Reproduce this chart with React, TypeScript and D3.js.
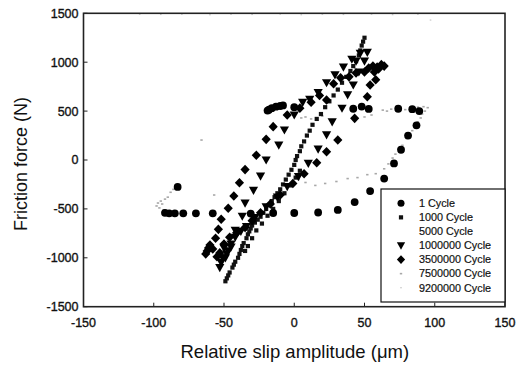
import React from "react";
import * as d3 from "d3";

const X_TICKS = [-150, -100, -50, 0, 50, 100, 150];
const Y_TICKS = [-1500, -1000, -500, 0, 500, 1000, 1500];

const SERIES_NAMES = [
  "1 Cycle",
  "1000 Cycle",
  "5000 Cycle",
  "1000000 Cycle",
  "3500000 Cycle",
  "7500000 Cycle",
  "9200000 Cycle",
];

const cycle1: [number, number][] = [
  [-92, -540], [-89, -545], [-85, -545], [-79, -545], [-70, -545], [-58, -545],
  [-31, -548], [-15, -542], [0, -542], [17, -537], [31, -510], [43, -430],
  [54, -318], [64, -190], [71, -35], [76, 105], [81, 250], [87, 355], [89, 500],
  [84, 520], [74, 524], [53, 522], [48, 546], [42, 524], [0, 540], [-8, 558],
  [-10, 552], [-13, 545], [-16, 530], [-18, 515], [-19, 505], [-83, -275],
];

const cycle1000: [number, number][] = [
  [-49, -1240], [-48, -1210], [-47, -1180], [-46, -1150], [-44, -1100], [-43, -1070],
  [-42, -1040], [-40, -1000], [-39, -960], [-38, -920], [-37, -880], [-36, -850],
  [-34, -800], [-33, -760], [-32, -730], [-31, -700], [-30, -670], [-28, -640],
  [-26, -610], [-24, -580], [-22, -540], [-20, -500], [-18, -460], [-16, -420],
  [-14, -380], [-12, -340], [-10, -300], [-8, -250], [-6, -200], [-4, -150],
  [-2, -100], [0, -50], [1, 0], [2, 40], [4, 90], [5, 140], [7, 190], [9, 250],
  [11, 300], [13, 360], [16, 420], [19, 470], [22, 540], [25, 600], [28, 660],
  [31, 720], [34, 790], [37, 850], [40, 910], [42, 960], [44, 1010], [46, 1070],
  [47, 1120], [48, 1170], [49, 1210], [50, 1250],
  [-35, -930], [-33, -880], [-30, -800], [-27, -720], [-23, -650], [-19, -570],
  [-15, -500], [-11, -420], [-7, -340], [-3, -260], [1, -180], [4, -110],
];

const cycle5000: [number, number][] = [
  [0, -120], [10, 60], [20, 250], [30, 420], [-10, -300], [-20, -480],
];

const cycle1000000: [number, number][] = [
  [-53, -1100], [-52, -1050], [-51, -1000], [-48, -960], [-50, -900], [-45, -890],
  [-42, -720], [-37, -575], [-35, -440], [-29, -310], [-24, -165], [-20, 0],
  [-11, 153], [-7, 307], [0, 460], [6, 590], [11, 620], [17, 690], [23, 790],
  [29, 870], [35, 950], [41, 1030], [47, 1090], [52, 1100], [44, 1010],
  [50, 1010], [46, 900], [42, 767], [38, 665], [34, 529], [27, 390], [23, 256],
  [17, 112], [10, -34], [3, -171], [-5, -273], [-12, -380], [-20, -480],
  [-28, -590], [-34, -680], [-38, -730], [-42, -790], [-45, -860], [-47, -930],
  [-49, -1000],
];

const cycle3500000: [number, number][] = [
  [-63, -960], [-62, -930], [-61, -900], [-60, -870], [-58, -910], [-56, -800],
  [-54, -709], [-52, -606], [-47, -494], [-43, -368], [-39, -232], [-35, -98],
  [-27, 48], [-20, 211], [-15, 341], [-5, 460], [-46, -790], [-50, -860],
  [-55, -990], [-53, -950], [4, 530], [12, 590], [18, 660], [23, 613], [28, 780],
  [33, 840], [39, 850], [44, 890], [50, 900], [53, 940], [56, 960], [59, 950],
  [62, 975], [64, 960], [57, 900], [60, 930], [58, 820], [54, 767], [52, 647],
  [43, 426], [31, 204], [23, 85], [16, -28], [7, -140], [-1, -240], [-10, -358],
  [-17, -450], [-24, -540], [-30, -620], [-35, -690], [-41, -745],
];

const cycle7500000: [number, number][] = [
  [63, 510], [66, 500], [69, 520], [74, 505], [79, 515], [84, 530], [88, 540],
  [92, 545], [95, 535], [93, 500], [91, 470], [90, 430], [88, 390], [86, 330],
  [84, 300], [82, 260], [80, 220], [77, 150], [74, 110], [72, 60], [70, 20],
  [67, -40], [64, -90], [58, -140], [52, -150], [45, -180], [38, -190], [30, -220],
  [22, -240], [15, -260], [8, -230], [3, -200], [-98, -470], [-97, -440],
  [-96, -490], [-95, -420], [-94, -450], [-92, -400], [-90, -380], [-88, -330],
  [-86, -300], [-84, -260], [-93, -510], [5, 430], [8, 440], [12, 420], [20, 450],
  [50, 440], [55, 460], [-66, 204], [-57, -358],
];

const cycle9200000: [number, number][] = [
  [-110, 1490], [-95, 1488], [-80, 1490], [-60, 1485], [-45, 1490], [-30, 1488],
  [-10, 1492], [5, 1485], [20, 1490], [35, 1488], [55, 1490], [70, 1486],
  [88, 1490], [97, 1431],
];

const W = 526, H = 366;
const L = 83.5, R = 505, T = 13.3, B = 306.7;

const x = d3.scaleLinear().domain([-150, 150]).range([L, R]);
const y = d3.scaleLinear().domain([-1500, 1500]).range([B, T]);

type Kind = "circle" | "square" | "none" | "tri" | "diamond" | "speck" | "faint";

function Marker({ kind, cx, cy, legend }: { kind: Kind; cx: number; cy: number; legend?: boolean }) {
  const s = legend ? 0.9 : 1;
  switch (kind) {
    case "circle":
      return <circle cx={cx} cy={cy} r={3.9 * s} fill="#000" />;
    case "square":
      return <rect x={cx - 2.1} y={cy - 2.1} width={4.2} height={4.2} fill="#111" />;
    case "tri":
      return (
        <path
          d={`M${cx - 4.6 * s},${cy - 3.6 * s}L${cx + 4.6 * s},${cy - 3.6 * s}L${cx},${cy + 4.6 * s}Z`}
          fill="#000"
        />
      );
    case "diamond":
      return (
        <path
          d={`M${cx},${cy - 4.8 * s}L${cx + 4.6 * s},${cy}L${cx},${cy + 4.8 * s}L${cx - 4.6 * s},${cy}Z`}
          fill="#000"
        />
      );
    case "speck":
      return <rect x={cx - 1.2} y={cy - 0.8} width={2.4} height={1.6} fill="#a8a8a8" />;
    case "faint":
      return <rect x={cx - 0.8} y={cy - 0.6} width={1.6} height={1.2} fill="#c8c8c8" />;
    default:
      return null;
  }
}

const SERIES: { data: [number, number][]; kind: Kind }[] = [
  { data: cycle1, kind: "circle" },
  { data: cycle1000, kind: "square" },
  { data: cycle5000, kind: "none" },
  { data: cycle1000000, kind: "tri" },
  { data: cycle3500000, kind: "diamond" },
  { data: cycle7500000, kind: "speck" },
  { data: cycle9200000, kind: "faint" },
];

const DRAW_ORDER = [6, 5, 2, 1, 3, 4, 0];

export default function App() {
  const font = "'Liberation Sans', Arial, sans-serif";
  const legX = 381, legY = 189, legW = R - 381, legH = 113;
  return (
    <div style={{ position: "absolute", left: 0, top: 0 }}>
      <svg width={W} height={H} style={{ display: "block", background: "#fff" }} fontFamily={font}>
        <rect x={0} y={0} width={W} height={H} fill="#fff" />
        {DRAW_ORDER.map((si) =>
          SERIES[si].data.map((d, i) => (
            <Marker key={`${si}-${i}`} kind={SERIES[si].kind} cx={x(d[0])} cy={y(d[1])} />
          ))
        )}
        {X_TICKS.map((t) => (
          <g key={`xt${t}`}>
            <line x1={x(t)} x2={x(t)} y1={B} y2={B - 4} stroke="#222" strokeWidth={1} />
            <text x={x(t)} y={326.5} textAnchor="middle" fontSize={12.5} fill="#111" stroke="#111" strokeWidth={0.35}>
              {t}
            </text>
          </g>
        ))}
        {Y_TICKS.map((t) => (
          <g key={`yt${t}`}>
            <line x1={L} x2={L + 4} y1={y(t)} y2={y(t)} stroke="#222" strokeWidth={1} />
            <text x={78.5} y={y(t) + 4.4} textAnchor="end" fontSize={12.5} fill="#111" stroke="#111" strokeWidth={0.35}>
              {t}
            </text>
          </g>
        ))}
        <rect x={L} y={T} width={R - L} height={B - T} fill="none" stroke="#222" strokeWidth={1.6} />
        <rect x={legX} y={legY} width={legW} height={legH} fill="#fff" stroke="#111" strokeWidth={1.2} />
        {SERIES_NAMES.map((name, i) => {
          const cy = 203.3 + i * 14.07;
          return (
            <g key={name}>
              <Marker kind={SERIES[i].kind} cx={401} cy={cy} legend />
              <text x={419} y={cy + 3.8} fontSize={10.8} fill="#111" stroke="#111" strokeWidth={0.2}>
                {name}
              </text>
            </g>
          );
        })}
        <text x={294.8} y={357.8} textAnchor="middle" fontSize={18.5} fill="#111">
          Relative slip amplitude (μm)
        </text>
        <text
          transform={`translate(26.5,164) rotate(-90)`}
          textAnchor="middle"
          fontSize={18}
          fill="#111"
        >
          Friction force (N)
        </text>
      </svg>
    </div>
  );
}
